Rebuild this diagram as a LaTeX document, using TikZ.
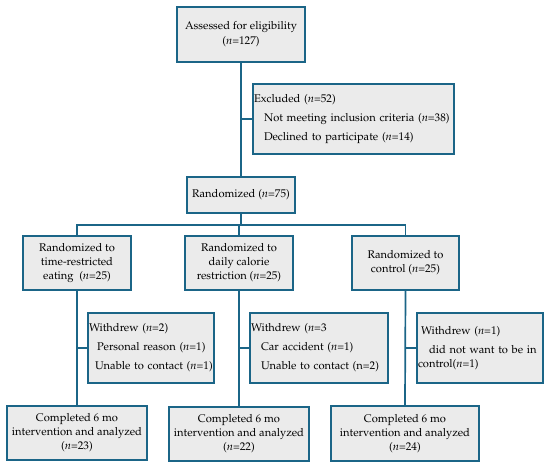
\documentclass[tikz,border=0pt]{standalone}
\usepackage[T1]{fontenc}
\usepackage{mathpazo}
\usetikzlibrary{positioning}
\definecolor{bdr}{HTML}{1B6587}
\definecolor{boxfill}{HTML}{EBEBEB}
\begin{document}
\begin{tikzpicture}[x=1bp,y=-1bp,
  box/.style={draw=bdr, fill=boxfill, line width=1.7bp, inner sep=1bp, align=center, font=\fontsize{11.2}{14}\selectfont},
  lbox/.style={box, align=left},
  conn/.style={draw=bdr, line width=1.7bp}]
\useasboundingbox (0,0) rectangle (550,472);
\node[box, minimum width=128bp, minimum height=55bp, font=\fontsize{11.2}{15}\selectfont] (A) at (241,34.5) {Assessed for eligibility\\(\textit{n}=127)};
\node[lbox, minimum width=201bp, minimum height=70bp, text width=199bp, font=\fontsize{11.2}{19}\selectfont] (E) at (353.5,119) {Excluded (\textit{n}=52)\\\mbox{\hspace*{10bp}Not meeting inclusion criteria (\textit{n}=38)}\\\mbox{\hspace*{10bp}Declined to participate (\textit{n}=14)}};
\node[box, minimum width=108bp, minimum height=36bp] (R) at (241,195) {Randomized (\textit{n}=75)};
\node[box, minimum width=108bp, minimum height=54bp] (L1) at (77,263) {Randomized to\\time-restricted\\eating\ \ (\textit{n}=25)};
\node[box, minimum width=108bp, minimum height=54bp] (L2) at (239,263) {Randomized to\\daily calorie\\restriction (\textit{n}=25)};
\node[box, minimum width=107bp, minimum height=54bp] (L3) at (405.5,263) {Randomized to\\control (\textit{n}=25)};
\node[lbox, minimum width=126bp, minimum height=70bp, text width=124bp, font=\fontsize{11.2}{19}\selectfont] (W1) at (151,348) {Withdrew (\textit{n}=2)\\\mbox{\hspace*{8bp}Personal reason (\textit{n}=1)}\\\mbox{\hspace*{6bp}Unable to contact (\textit{n}=1)}};
\node[lbox, minimum width=138bp, minimum height=70bp, text width=136bp, font=\fontsize{11.2}{19}\selectfont] (W2) at (319,348) {Withdrew (\textit{n}=3\\\mbox{\hspace*{10bp}Car accident (\textit{n}=1)}\\\mbox{\hspace*{10bp}Unable to contact (n=2)}};
\node[lbox, minimum width=126bp, minimum height=70bp, text width=124bp, font=\fontsize{11.2}{14}\selectfont] (W3) at (480,348) {\mbox{\hspace*{3bp}Withdrew (\textit{n}=1)}\\[5bp]\mbox{\hspace*{11bp}did not want to be in}\\control(\textit{n}=1)};
\node[box, minimum width=140bp, minimum height=54bp] (F1) at (77,433) {Completed 6 mo\\intervention and analyzed\\(\textit{n}=23)};
\node[box, minimum width=140bp, minimum height=54bp] (F2) at (239,434) {Completed 6 mo\\intervention and analyzed\\(\textit{n}=22)};
\node[box, minimum width=148bp, minimum height=55bp] (F3) at (405,433.5) {Completed 6 mo\\intervention and analyzed\\(\textit{n}=24)};
\coordinate (br) at (241,225);
\draw[conn] (A.south) -- (R.north);
\draw[conn] (A.south |- E.west) -- (E.west);
\draw[conn] (R.south) -- (br);
\draw[conn] (L1.north) |- (br) -| (L3.north);
\draw[conn] (L2.north) |- (br);
\draw[conn] (L1.south) -- (F1.north);
\draw[conn] (L2.south) -- (F2.north);
\draw[conn] (L3.south) -- (F3.north);
\draw[conn] (L1.south |- W1.west) -- (W1.west);
\draw[conn] (L2.south |- W2.west) -- (W2.west);
\draw[conn] (L3.south |- W3.west) -- (W3.west);
\end{tikzpicture}
\end{document}
